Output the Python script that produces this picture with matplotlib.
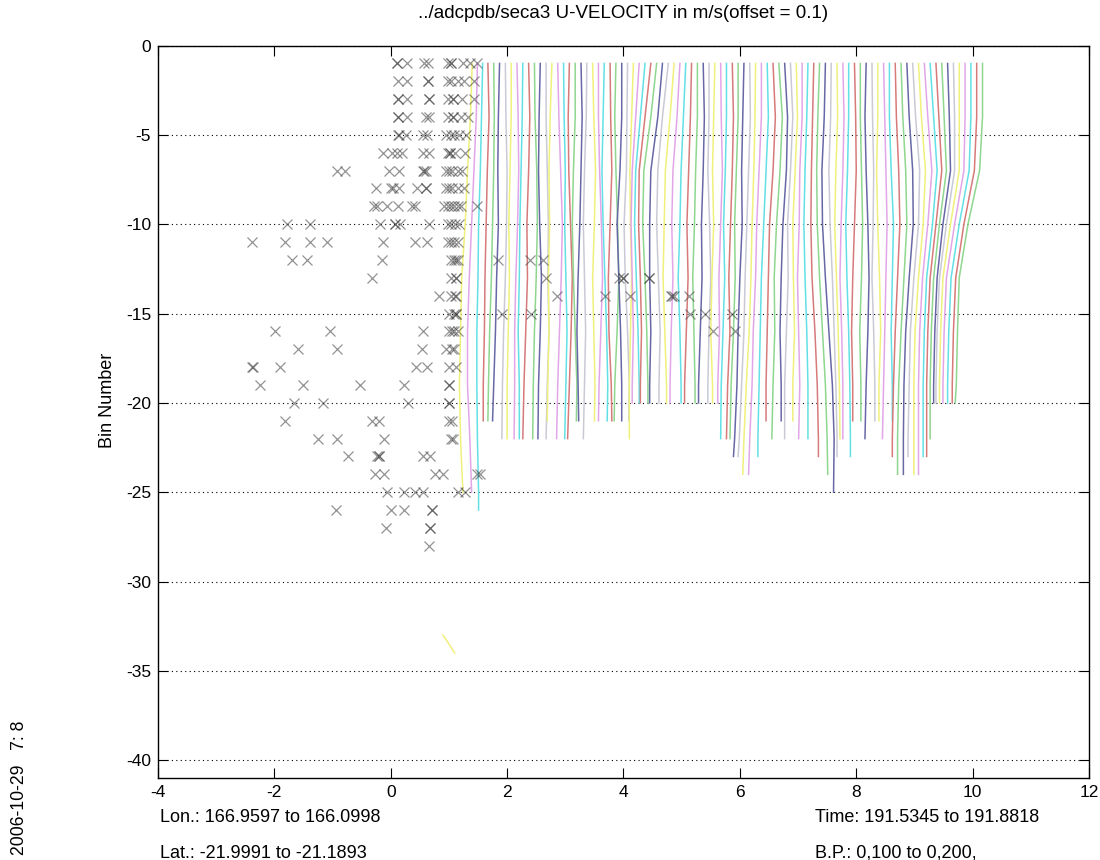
import numpy as np
import matplotlib
matplotlib.use("Agg")
import matplotlib.pyplot as plt

plt.rcParams["font.family"] = ["Liberation Sans", "DejaVu Sans"]
plt.rcParams["axes.unicode_minus"] = False

# ADCP u-velocity profiles, each drawn at its own offset (0.1 apart)
anchor_bins = [1, 4, 7, 10, 13, 16, 19, 22, 25]

x_top = [1.40, 1.49, 1.58, 1.67, 1.77, 1.87, 1.97, 2.07, 2.17, 2.27,
         2.37, 2.47, 2.57, 2.67, 2.77, 2.87, 2.97, 3.07, 3.17, 3.27,
         3.37, 3.47, 3.57, 3.67, 3.77, 3.87, 3.97, 4.07, 4.17, 4.27,
         4.37, 4.47, 4.57, 4.67, 4.77, 4.87, 4.97, 5.07, 5.17, 5.27,
         5.37, 5.47, 5.57, 5.67, 5.77, 5.87, 5.97, 6.07, 6.17, 6.27,
         6.37, 6.47, 6.57, 6.67, 6.77, 6.87, 6.97, 7.07, 7.17, 7.27,
         7.37, 7.47, 7.57, 7.67, 7.77, 7.87, 7.97, 8.07, 8.17, 8.27,
         8.37, 8.47, 8.57, 8.67, 8.77, 8.87, 8.97, 9.07, 9.17, 9.27,
         9.37, 9.47, 9.57, 9.67, 9.77, 9.87, 9.97, 10.07, 10.17]

last_bin = [25, 25, 26, 21, 21, 21, 22, 22, 22, 22,
            22, 22, 22, 22, 21, 22, 22, 22, 21, 21,
            22, 21, 21, 21, 21, 21, 21, 21, 22, 20,
            20, 20, 20, 20, 20, 20, 20, 20, 20, 20,
            20, 20, 20, 20, 22, 22, 22, 23, 23, 24,
            24, 23, 21, 22, 21, 22, 21, 22, 22, 23,
            24, 25, 23, 22, 22, 23, 21, 21, 22, 21,
            21, 22, 21, 23, 24, 24, 23, 24, 24, 23,
            23, 22, 20, 20, 20, 20, 20, 20, 20]

# departure from the top position at the anchor bins
shift = [
    [0, -0.03, -0.08, -0.12, -0.18, -0.20, -0.22, -0.20, -0.16],
    [0, -0.02, -0.06, -0.10, -0.14, -0.17, -0.17, -0.13, -0.10],
    [0, -0.02, -0.04, -0.07, -0.08, -0.10, -0.10, -0.09, -0.07],
    [0, 0.02, -0.01, -0.03, -0.05, -0.06, -0.08, -0.08, -0.08],
    [0, 0.01, 0.00, -0.02, -0.04, -0.07, -0.09, -0.10, -0.10],
    [0, -0.02, -0.03, -0.02, -0.05, -0.07, -0.10, -0.12, -0.12],
    [0, 0.01, 0.03, 0.02, 0.00, -0.03, -0.05, -0.06, -0.06],
    [0, 0.00, -0.02, -0.04, -0.03, -0.05, -0.07, -0.07, -0.07],
    [0, 0.02, 0.03, 0.01, -0.02, -0.04, -0.04, -0.05, -0.05],
    [0, -0.01, -0.03, -0.05, -0.06, -0.08, -0.06, -0.06, -0.06],
    [0, 0.02, 0.00, -0.03, -0.02, -0.05, -0.08, -0.10, -0.10],
    [0, 0.01, 0.04, 0.05, 0.03, 0.00, -0.02, -0.03, -0.03],
    [0, -0.02, -0.03, -0.01, 0.02, 0.00, -0.03, -0.04, -0.04],
    [0, 0.00, 0.02, 0.04, 0.03, 0.05, 0.02, 0.00, 0.00],
    [0, -0.03, -0.05, -0.04, -0.06, -0.05, -0.07, -0.08, -0.08],
    [0, 0.02, 0.05, 0.08, 0.06, 0.03, 0.00, -0.02, -0.02],
    [0, 0.01, 0.03, 0.02, 0.04, 0.06, 0.04, 0.02, 0.02],
    [0, -0.02, -0.01, 0.02, 0.05, 0.03, 0.00, -0.03, -0.03],
    [0, 0.00, -0.03, -0.05, -0.03, 0.00, 0.03, 0.02, 0.02],
    [0, 0.02, 0.00, -0.02, -0.05, -0.07, -0.05, -0.04, -0.04],
    [0, -0.01, -0.04, -0.06, -0.04, -0.02, -0.04, -0.06, -0.06],
    [0, 0.02, 0.05, 0.03, 0.00, 0.02, 0.04, 0.03, 0.03],
    [0, 0.00, 0.02, 0.05, 0.07, 0.04, 0.01, 0.00, 0.00],
    [0, -0.02, -0.04, -0.02, 0.01, 0.04, 0.06, 0.05, 0.05],
    [0, 0.01, 0.03, 0.00, -0.03, -0.02, 0.02, 0.03, 0.03],
    [0, -0.02, 0.00, 0.03, 0.05, 0.02, -0.02, -0.03, -0.03],
    [0, 0.00, -0.03, -0.08, -0.05, -0.02, 0.00, 0.00, 0.00],
    [0, -0.01, -0.02, -0.06, -0.04, 0.00, 0.03, 0.02, 0.02],
    [0, -0.03, -0.06, -0.05, -0.03, -0.05, -0.07, -0.07, -0.07],
    [0, -0.06, -0.12, -0.14, -0.12, -0.10, -0.12, -0.12, -0.12],
    [0, -0.08, -0.16, -0.18, -0.15, -0.12, -0.10, -0.10, -0.10],
    [0, -0.10, -0.20, -0.21, -0.18, -0.16, -0.18, -0.18, -0.18],
    [0, -0.10, -0.22, -0.24, -0.20, -0.17, -0.15, -0.15, -0.15],
    [0, -0.08, -0.20, -0.22, -0.22, -0.20, -0.22, -0.22, -0.22],
    [0, -0.10, -0.18, -0.20, -0.17, -0.14, -0.16, -0.16, -0.16],
    [0, -0.07, -0.15, -0.17, -0.19, -0.16, -0.13, -0.13, -0.13],
    [0, -0.05, -0.12, -0.14, -0.12, -0.15, -0.17, -0.17, -0.17],
    [0, -0.04, -0.08, -0.10, -0.13, -0.10, -0.08, -0.08, -0.08],
    [0, -0.02, -0.05, -0.08, -0.06, -0.09, -0.12, -0.12, -0.12],
    [0, 0.00, -0.03, -0.05, -0.08, -0.06, -0.04, -0.04, -0.04],
    [0, 0.02, 0.00, -0.03, -0.02, -0.05, -0.08, -0.08, -0.08],
    [0, 0.00, -0.02, 0.01, 0.03, 0.00, -0.02, -0.02, -0.02],
    [0, -0.02, -0.04, -0.02, -0.05, -0.07, -0.04, -0.04, -0.04],
    [0, 0.01, 0.03, 0.00, -0.03, -0.02, -0.05, -0.05, -0.05],
    [0, 0.00, -0.02, -0.05, -0.03, -0.06, -0.09, -0.10, -0.10],
    [0, 0.02, 0.00, -0.03, -0.06, -0.04, -0.08, -0.10, -0.10],
    [0, 0.00, -0.03, -0.06, -0.05, -0.08, -0.12, -0.14, -0.14],
    [0, -0.02, -0.04, -0.03, -0.07, -0.10, -0.12, -0.16, -0.18],
    [0, 0.01, -0.02, -0.05, -0.08, -0.10, -0.14, -0.18, -0.20],
    [0, -0.01, -0.03, -0.06, -0.08, -0.11, -0.16, -0.20, -0.22],
    [0, 0.00, -0.04, -0.08, -0.10, -0.14, -0.16, -0.20, -0.22],
    [0, 0.02, -0.02, -0.06, -0.10, -0.12, -0.14, -0.16, -0.16],
    [0, 0.04, 0.00, -0.06, -0.08, -0.10, -0.12, -0.12, -0.12],
    [0, 0.06, 0.02, -0.04, -0.08, -0.07, -0.10, -0.12, -0.12],
    [0, 0.05, 0.03, -0.03, -0.06, -0.08, -0.06, -0.06, -0.06],
    [0, 0.04, 0.00, -0.05, -0.04, -0.07, -0.10, -0.10, -0.10],
    [0, 0.02, -0.02, -0.06, -0.05, -0.03, -0.06, -0.06, -0.06],
    [0, 0.00, -0.04, -0.05, -0.08, -0.06, -0.04, -0.06, -0.06],
    [0, -0.02, -0.05, -0.07, -0.05, -0.02, 0.00, 0.00, 0.00],
    [0, -0.02, -0.04, -0.05, -0.03, 0.02, 0.06, 0.08, 0.08],
    [0, -0.03, -0.05, -0.04, 0.00, 0.05, 0.10, 0.13, 0.14],
    [0, -0.02, -0.06, -0.05, 0.00, 0.06, 0.12, 0.15, 0.14],
    [0, -0.01, -0.04, -0.02, 0.02, 0.05, 0.08, 0.10, 0.10],
    [0, 0.01, -0.02, -0.04, -0.01, 0.02, 0.04, 0.05, 0.05],
    [0, 0.02, 0.00, -0.03, -0.05, -0.02, 0.00, 0.00, 0.00],
    [0, 0.00, -0.02, -0.05, -0.03, 0.00, 0.02, 0.03, 0.03],
    [0, 0.02, 0.03, 0.00, -0.03, -0.05, -0.03, -0.03, -0.03],
    [0, 0.00, 0.02, 0.04, 0.02, -0.01, 0.01, 0.01, 0.01],
    [0, -0.02, 0.00, 0.03, 0.05, 0.03, 0.00, -0.02, -0.02],
    [0, 0.01, 0.03, 0.02, 0.00, 0.03, 0.05, 0.05, 0.05],
    [0, 0.00, -0.02, 0.00, 0.03, 0.05, 0.02, 0.02, 0.02],
    [0, 0.02, 0.04, 0.06, 0.04, 0.02, 0.00, -0.02, -0.02],
    [0, 0.00, 0.03, 0.07, 0.05, 0.03, 0.05, 0.05, 0.05],
    [0, 0.02, 0.06, 0.08, 0.04, 0.00, -0.03, -0.05, -0.05],
    [0, 0.03, 0.08, 0.10, 0.05, 0.00, -0.04, -0.06, -0.06],
    [0, 0.04, 0.10, 0.11, 0.04, -0.02, -0.05, -0.06, -0.06],
    [0, 0.05, 0.12, 0.10, 0.02, -0.04, -0.06, -0.08, -0.08],
    [0, 0.05, 0.12, 0.08, 0.00, -0.06, -0.08, -0.08, -0.08],
    [0, 0.06, 0.13, 0.06, -0.03, -0.08, -0.10, -0.10, -0.10],
    [0, 0.06, 0.12, 0.04, -0.06, -0.10, -0.12, -0.12, -0.12],
    [0, 0.05, 0.10, 0.00, -0.10, -0.14, -0.16, -0.16, -0.16],
    [0, 0.04, 0.08, -0.04, -0.14, -0.18, -0.20, -0.20, -0.20],
    [0, 0.03, 0.05, -0.08, -0.18, -0.22, -0.24, -0.24, -0.24],
    [0, 0.02, 0.02, -0.12, -0.24, -0.28, -0.30, -0.30, -0.30],
    [0, 0.00, 0.00, -0.15, -0.28, -0.32, -0.34, -0.34, -0.34],
    [0, 0.00, -0.02, -0.18, -0.32, -0.36, -0.38, -0.38, -0.38],
    [0, 0.00, -0.03, -0.20, -0.34, -0.38, -0.40, -0.40, -0.40],
    [0, 0.00, -0.04, -0.22, -0.36, -0.40, -0.42, -0.42, -0.42],
    [0, 0.00, -0.05, -0.25, -0.40, -0.43, -0.45, -0.47, -0.47],
]

line_colors = ["#f0f07c", "#e2a6e8", "#62e0e6", "#d67a7a", "#8fd68f", "#6868a6", "#cacad6"]

# flagged points (x marks), listed per bin 1..28
flag_x = [
    [0.11, 0.11, 0.28, 0.58, 0.64, 0.98, 1.04, 1.04, 1.24, 1.36, 1.48],
    [0.12, 0.28, 0.64, 0.64, 0.98, 1.04, 1.15, 1.26, 1.43],
    [0.12, 0.12, 0.28, 0.66, 0.66, 0.98, 1.07, 1.07, 1.23, 1.43],
    [0.12, 0.12, 0.28, 0.60, 0.66, 0.98, 1.07, 1.07, 1.20, 1.32],
    [0.12, 0.14, 0.26, 0.56, 0.63, 0.95, 1.03, 1.09, 1.17, 1.30],
    [-0.14, 0.03, 0.10, 0.20, 0.56, 0.65, 0.98, 1.02, 1.02, 1.11, 1.27],
    [-0.92, -0.78, -0.03, 0.14, 0.56, 0.58, 0.60, 0.95, 1.00, 1.06, 1.15, 1.23],
    [-0.26, 0.00, 0.04, 0.14, 0.45, 0.60, 0.60, 0.95, 1.00, 1.06, 1.15, 1.26],
    [-0.29, -0.24, -0.06, 0.12, 0.37, 0.42, 0.92, 0.98, 1.04, 1.09, 1.15, 1.20, 1.48],
    [-1.79, -1.39, -0.18, 0.07, 0.07, 0.16, 0.65, 0.98, 1.04, 1.10, 1.17],
    [-2.39, -1.82, -1.39, -1.10, -0.13, 0.42, 0.62, 0.98, 1.04, 1.09, 1.15],
    [-1.70, -1.44, -0.15, 1.04, 1.09, 1.12, 1.15, 1.85, 2.39, 2.61],
    [-0.33, 1.03, 1.12, 1.12, 2.67, 3.93, 3.99, 3.99, 4.44, 4.44],
    [0.83, 1.03, 1.10, 1.12, 2.86, 3.69, 4.12, 4.81, 4.84, 4.87, 5.13],
    [1.00, 1.08, 1.12, 1.12, 1.91, 2.41, 5.14, 5.40, 5.86],
    [-1.99, -1.04, 0.56, 1.00, 1.06, 1.09, 1.15, 5.54, 5.92],
    [-1.59, -0.93, 0.53, 0.95, 1.06, 1.09],
    [-2.39, -2.36, -1.91, 0.43, 0.62, 1.00, 1.12],
    [-2.25, -1.51, -0.53, 0.23, 1.01, 1.01],
    [-1.66, -1.16, 0.29, 1.01, 1.01],
    [-1.82, -0.32, -0.21, 1.01, 1.06],
    [-1.25, -0.93, -0.11, 1.04, 1.07],
    [-0.74, -0.24, -0.21, -0.21, 0.56, 0.68],
    [-0.27, -0.12, 0.76, 0.90, 1.48, 1.53],
    [-0.07, 0.23, 0.42, 0.56, 1.16, 1.28],
    [-0.94, 0.00, 0.23, 0.71, 0.71],
    [-0.08, 0.68, 0.68],
    [0.66],
]

# short stray segment deep down
stray_x = [0.90, 1.10]
stray_bin = [33, 34]

fig = plt.figure(figsize=(11, 8.6), dpi=100)
ax = fig.add_axes([0.1436, 0.0953, 0.8464, 0.8517])

for i, (x0, end, sh) in enumerate(zip(x_top, last_bin, shift)):
    bins = [b for b in anchor_bins if b < end]
    xs = [x0 + s for s in sh[:len(bins)]]
    k = min(len(bins), len(sh) - 1)
    bins.append(end)
    xs.append(x0 + sh[k])
    ax.plot(xs, -np.array(bins), color=line_colors[i % len(line_colors)], lw=1.1)

ax.plot(stray_x, -np.array(stray_bin), color=line_colors[0], lw=1.1)

for b, xs in enumerate(flag_x, start=1):
    ax.plot(xs, [-b] * len(xs), linestyle="none", marker="x", markersize=7.5,
            mew=0.9, color="#3c3c3c", alpha=0.55)

ax.set_xlim(-4, 12)
ax.set_ylim(-41, 0)
ax.set_xticks(range(-4, 13, 2))
ax.set_yticks(range(-40, 1, 5))
ax.yaxis.grid(True, color="black", linestyle=(0, (1, 3)), lw=0.8)
ax.tick_params(direction="in", length=7, width=0.8, top=True, right=True,
               labelsize=12.5, pad=5)
for sp in ax.spines.values():
    sp.set_linewidth(1.0)

fig.text(623 / 1100, 1 - 13 / 860, "../adcpdb/seca3 U-VELOCITY in m/s(offset = 0.1)",
         ha="center", va="center", fontsize=13.5)
fig.text(108 / 1100, 1 - 400 / 860, "Bin Number", rotation=90,
         ha="center", va="center", fontsize=13)
fig.text(160 / 1100, 1 - 818 / 860, "Lon.: 166.9597 to 166.0998", ha="left", va="center", fontsize=13)
fig.text(160 / 1100, 1 - 853 / 860, "Lat.: -21.9991 to -21.1893", ha="left", va="center", fontsize=13)
fig.text(815 / 1100, 1 - 818 / 860, "Time: 191.5345 to 191.8818", ha="left", va="center", fontsize=13)
fig.text(815 / 1100, 1 - 853 / 860, "B.P.: 0,100 to 0,200,", ha="left", va="center", fontsize=13)
fig.text(20 / 1100, 1 - 788 / 860, "2006-10-29   7: 8", rotation=90,
         ha="center", va="center", fontsize=12.7)

fig.savefig("out.png", dpi=100)
